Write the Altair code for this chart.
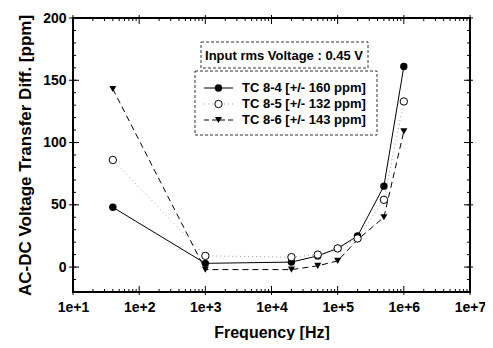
import altair as alt
import pandas as pd

# ---------------- data ----------------
freq = [40, 1e3, 2e4, 5e4, 1e5, 2e5, 5e5, 1e6]
tc84 = [48, 3, 4, 9, 15, 25, 65, 161]
tc85 = [86, 9, 8, 10, 15, 23, 54, 133]
tc86 = [143, -2, -2, 1, 5, 22, 40, 109]
series_names = ["TC 8-4 [+/- 160 ppm]", "TC 8-5 [+/- 132 ppm]", "TC 8-6 [+/- 143 ppm]"]
box_title = "Input rms Voltage : 0.45 V"

x_major = [1e1, 1e2, 1e3, 1e4, 1e5, 1e6, 1e7]
x_minor = [m * 10 ** k for k in range(1, 7) for m in range(2, 10)]
y_major = [0, 50, 100, 150, 200]
y_minor = list(range(-20, 201, 10))

W, H = 397, 274
FONT = "Liberation Sans"

xscale = alt.Scale(type="log", domain=[10, 1e7])
yscale = alt.Scale(domain=[-20, 200], nice=False, zero=False)

dummy = pd.DataFrame({"a": [0]})

x_axis = alt.Axis(values=x_major, labelExpr="'1e+' + round(log(datum.value)/LN10)",
                  title="Frequency [Hz]", ticks=False, domain=False, grid=False,
                  labelPadding=8, titlePadding=10, labelFontSize=14, titleFontSize=16,
                  labelFont=FONT, titleFont=FONT, labelFontWeight="bold", titleFontWeight="bold",
                  labelColor="black", titleColor="black", labelFlush=False)
y_axis = alt.Axis(values=y_major, title="AC-DC Voltage Transfer Diff. [ppm]", ticks=False,
                  domain=False, grid=False, labelPadding=7, titlePadding=8, labelFontSize=14,
                  titleFontSize=17, labelFont=FONT, titleFont=FONT, labelFontWeight="bold",
                  titleFontWeight="bold", labelColor="black", titleColor="black")


def X(field):
    return alt.X(field, type="quantitative", scale=xscale, axis=x_axis)


def Y(field):
    return alt.Y(field, type="quantitative", scale=yscale, axis=y_axis)


def sdf(vals):
    return pd.DataFrame({"f": freq, "v": vals})


layers = []

# lines
layers.append(alt.Chart(sdf(tc85)).mark_line(color="#a0a0a0", strokeWidth=1, strokeDash=[1, 3]).encode(
    x=X("f"), y=Y("v")))
layers.append(alt.Chart(sdf(tc86)).mark_line(color="black", strokeWidth=1, strokeDash=[6, 4]).encode(
    x=X("f"), y=Y("v")))
layers.append(alt.Chart(sdf(tc84)).mark_line(color="black", strokeWidth=1).encode(
    x=X("f"), y=Y("v")))

# markers
layers.append(alt.Chart(sdf(tc86)).mark_point(shape="triangle-down", filled=True, color="black",
                                               size=50, opacity=1).encode(x=X("f"), y=Y("v")))
layers.append(alt.Chart(sdf(tc84)).mark_point(shape="circle", filled=True, color="black",
                                               size=55, opacity=1).encode(x=X("f"), y=Y("v")))
layers.append(alt.Chart(sdf(tc85)).mark_point(shape="circle", filled=True, fill="white", stroke="black",
                                               strokeWidth=1, size=55, opacity=1).encode(x=X("f"), y=Y("v")))


# tick marks (inward, mirrored)
def xticks(vals, y1, y2):
    return alt.Chart(pd.DataFrame({"t": vals})).mark_rule(color="black", strokeWidth=1).encode(
        x=X("t"), y=alt.value(y1), y2=alt.value(y2))


def yticks(vals, x1, x2):
    return alt.Chart(pd.DataFrame({"t": vals})).mark_rule(color="black", strokeWidth=1).encode(
        y=Y("t"), x=alt.value(x1), x2=alt.value(x2))


layers += [
    xticks(x_major, H + 3, H - 6), xticks(x_minor, H, H - 3),
    xticks(x_major, -3, 6), xticks(x_minor, 0, 3),
    yticks(y_major, -4, 6), yticks(y_minor, 0, 3),
    yticks(y_major, W + 3, W - 6), yticks(y_minor, W, W - 3),
]

# frame
layers.append(alt.Chart(dummy).mark_rect(fill=None, stroke="black", strokeWidth=2).encode(
    x=alt.value(0), x2=alt.value(W), y=alt.value(0), y2=alt.value(H)))

# legend-like boxes
box_style = dict(fill="white", stroke="#333333", strokeWidth=1, strokeDash=[3, 2])
layers.append(alt.Chart(dummy).mark_rect(**box_style).encode(
    x=alt.value(128), x2=alt.value(295), y=alt.value(24), y2=alt.value(50)))
layers.append(alt.Chart(dummy).mark_text(font=FONT, fontSize=13, fontWeight="bold", color="black",
                                          align="center", baseline="middle").encode(
    x=alt.value(211), y=alt.value(37.5), text=alt.value(box_title)))
layers.append(alt.Chart(dummy).mark_rect(**box_style).encode(
    x=alt.value(122), x2=alt.value(304), y=alt.value(53), y2=alt.value(117)))

leg_y = [70, 86, 102]
line_styles = [dict(color="black"), dict(color="#a0a0a0", strokeDash=[1, 3]),
               dict(color="black", strokeDash=[5, 3])]
marker_styles = [dict(shape="circle", filled=True, color="black", size=55),
                 dict(shape="circle", filled=True, fill="white", stroke="black", strokeWidth=1, size=55),
                 dict(shape="triangle-down", filled=True, color="black", size=50)]
for name, yy, ls, ms in zip(series_names, leg_y, line_styles, marker_styles):
    layers.append(alt.Chart(dummy).mark_rule(strokeWidth=1, **ls).encode(
        x=alt.value(131), x2=alt.value(160), y=alt.value(yy)))
    layers.append(alt.Chart(dummy).mark_point(opacity=1, **ms).encode(
        x=alt.value(145.5), y=alt.value(yy)))
    layers.append(alt.Chart(dummy).mark_text(font=FONT, fontSize=13, fontWeight="bold", color="black",
                                              align="left", baseline="middle").encode(
        x=alt.value(169), y=alt.value(yy), text=alt.value(name)))

chart = alt.layer(*layers).properties(
    width=W, height=H, autosize="none", background="white",
    padding={"left": 65, "top": 10, "right": 15, "bottom": 48},
).configure_view(stroke=None)

chart.save("out.html", embed_options={"renderer": "svg", "actions": False})
